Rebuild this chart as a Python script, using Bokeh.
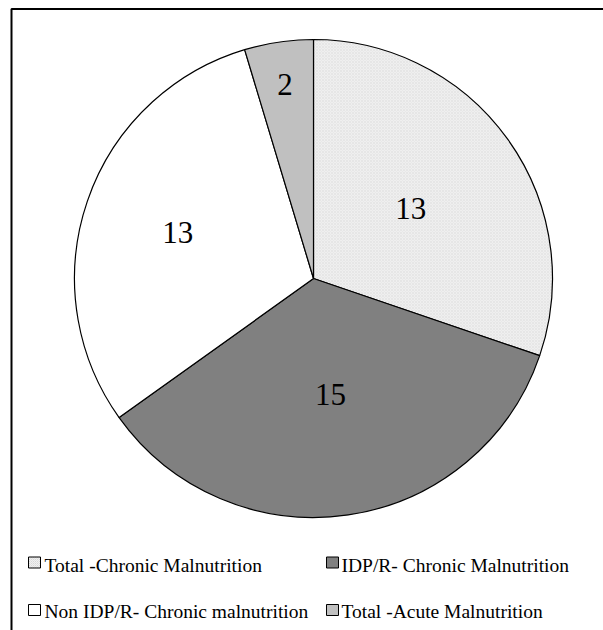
import numpy as np
from bokeh.plotting import figure
from bokeh.models import Range1d, BoxAnnotation, ColumnDataSource
from bokeh.core.properties import value
from bokeh.embed import file_html
from bokeh.resources import INLINE

# ---- data ----
categories = ["Total -Chronic Malnutrition", "IDP/R- Chronic Malnutrition",
              "Non IDP/R- Chronic malnutrition", "Total -Acute Malnutrition"]
values = [13, 15, 13, 2]
labels = ["13", "15", "13", "2"]

# ---- styles ----
colors = ["#efefef", "#808080", "#ffffff", "#c0c0c0"]
hatches = ["x", " ", " ", " "]
label_radius_frac = [0.50, 0.49, 0.60, 0.82]
FONT = "Liberation Serif"

W, H = 603, 630
p = figure(width=W, height=H, x_range=Range1d(0, W), y_range=Range1d(-H, 0),
           output_backend="svg", toolbar_location=None,
           x_axis_location=None, y_axis_location=None, min_border=0,
           outline_line_color=None)
p.grid.visible = False
p.background_fill_color = "white"
p.border_fill_color = "white"

# chart-area frame: only its top and left edges fall inside the picture
p.add_layout(BoxAnnotation(left=11, right=W + 50, top=-8.5, bottom=-(H + 50),
                           fill_alpha=0, line_color="black", line_width=2,
                           line_alpha=1))

cx, cy, R = 313, -278, 239
vals = np.array(values, dtype=float)
frac = vals / vals.sum()
cum = np.cumsum(frac)
prev = cum - frac
start = np.pi / 2 - cum * 2 * np.pi
end = np.pi / 2 - prev * 2 * np.pi
mid = (start + end) / 2

src = ColumnDataSource(dict(start=start, end=end, color=colors, hatch=hatches))
p.wedge(x=cx, y=cy, radius=R, start_angle="start", end_angle="end",
        fill_color="color", line_color="black", line_width=1.2,
        hatch_pattern="hatch", hatch_color="#dcdcdc", hatch_scale=3, hatch_weight=0.5,
        source=src)

lr = np.array(label_radius_frac) * R
lsrc = ColumnDataSource(dict(x=cx + lr * np.cos(mid), y=cy + lr * np.sin(mid), t=labels))
p.text(x="x", y="y", text="t", source=lsrc, text_font=value(FONT), text_font_size="31px",
       text_align="center", text_baseline="middle", text_color="black")

# ---- legend (2 columns, row-major) ----
col_sq = [34, 332]
col_tx = [44, 341]
row_sq = [-562, -609.5]
row_bl = [-565, -610.5]
idx = range(len(categories))
gsrc = ColumnDataSource(dict(
    sx=[col_sq[i % 2] for i in idx], sy=[row_sq[i // 2] for i in idx],
    tx=[col_tx[i % 2] for i in idx], ty=[row_bl[i // 2] for i in idx],
    color=colors, hatch=hatches, name=categories))
p.rect(x="sx", y="sy", width=12, height=11, fill_color="color", line_color="black",
       line_width=1, hatch_pattern="hatch", hatch_color="#cfcfcf", hatch_scale=2,
       hatch_weight=0.5, source=gsrc)
p.text(x="tx", y="ty", text="name", source=gsrc, text_font=value(FONT),
       text_font_size="19.5px", text_align="left", text_baseline="alphabetic",
       text_color="black")

open("out.html", "w").write(file_html(p, INLINE))
